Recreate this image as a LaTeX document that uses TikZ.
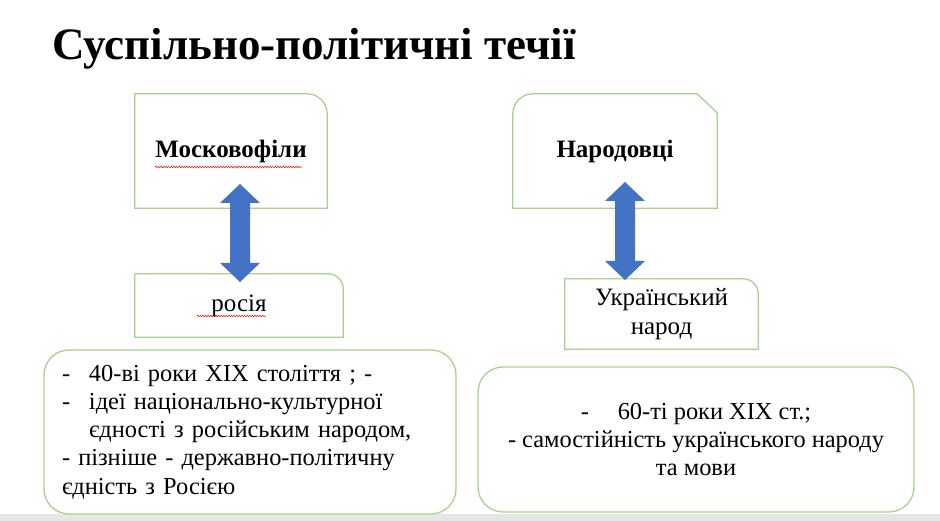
\documentclass[tikz,border=0pt]{standalone}
\usepackage{fontspec}
\setmainfont{Liberation Serif}
\usetikzlibrary{decorations.pathmorphing}
\definecolor{boxgreen}{HTML}{A9D18E}
\definecolor{arrowblue}{HTML}{4472C4}
\definecolor{bandgray}{HTML}{E6E6E6}
\begin{document}
\begin{tikzpicture}[x=1pt,y=1pt,
  greenline/.style={draw=boxgreen, line width=1.3pt},
  boxarea/.style={inner sep=0pt, font=\fontsize{25}{28.25}\selectfont, align=center},
  bigbox/.style={draw=boxgreen, line width=1.3pt, rounded corners=25pt, inner xsep=18pt, inner ysep=0pt, font=\fontsize{24.4}{28.25}\selectfont},
  squiggle/.style={draw=red, line width=0.5pt, decorate, decoration={snake, amplitude=0.7pt, segment length=2.6pt}},
  dblarrow/.style={fill=arrowblue, draw=none}]
\useasboundingbox (0,0) rectangle (940,521);
\fill[white] (0,0) rectangle (940,521);
\fill[bandgray] (0,0) rectangle (940,7);

\node[anchor=base west, inner sep=0pt, font=\fontsize{45}{54}\selectfont\bfseries] (title) at (52,461) {Суспільно-політичні течії};

% top boxes
\node[boxarea, minimum width=192pt, minimum height=114pt] (mos) at (231,370) {\textbf{Московофіли}};
\draw[greenline] (mos.south west) -- (mos.north west) -- ([xshift=-20pt]mos.north east) arc[start angle=90, end angle=0, radius=20pt] -- (mos.south east) -- cycle;
\draw[squiggle] (155,354) -- (302,354);

\node[boxarea, minimum width=204pt, minimum height=114pt] (nar) at (615,370) {\textbf{Народовці}};
\draw[greenline] (nar.south west) -- ([yshift=-20pt]nar.north west) arc[start angle=180, end angle=90, radius=20pt] -- ([xshift=-20pt]nar.north east) -- ([yshift=-19pt]nar.north east) -- (nar.south east) -- cycle;

% middle boxes
\node[boxarea, minimum width=208pt, minimum height=63pt] (ros) at (239,215.5) {росія};
\draw[greenline] (ros.south west) -- (ros.north west) -- ([xshift=-15pt]ros.north east) arc[start angle=90, end angle=0, radius=15pt] -- (ros.south east) -- cycle;
\draw[squiggle] (197,205) -- (266,205);

\node[boxarea, minimum width=193pt, minimum height=70pt] (ukr) at (661.5,207) {Український\\народ};
\draw[greenline] (ukr.south west) -- (ukr.north west) -- ([xshift=-15pt]ukr.north east) arc[start angle=90, end angle=0, radius=15pt] -- (ukr.south east) -- cycle;

% bottom boxes
\node[bigbox, minimum width=412pt, minimum height=164pt, text width=376pt, align=left] (mosinfo) at (250,89)
 {\makebox[27pt][l]{-}40-ві роки XIX століття ; -\\
  \makebox[27pt][l]{-}ідеї національно-культурної\\
  \hspace*{27pt}єдності з російським народом,\\
  - пізніше - державно-політичну\\
  єдність з Росією};

\node[bigbox, minimum width=436pt, minimum height=145pt, align=center] (narinfo) at (696,81.5)
 {\makebox[37pt][l]{-}60-ті роки XIX ст.;\\
  - самостійність українського народу\\
  та мови};

% double arrows
\coordinate (a1t) at (240,337);
\coordinate (a1b) at (240,239);
\fill[dblarrow] (a1t) -- (260,318) -- (250,318) -- (250,258) -- (260,258) -- (a1b) -- (220,258) -- (230,258) -- (230,318) -- (220,318) -- cycle;
\coordinate (a2t) at (625,339);
\coordinate (a2b) at (625,241);
\fill[dblarrow] (a2t) -- (645,320) -- (635,320) -- (635,260) -- (645,260) -- (a2b) -- (605,260) -- (615,260) -- (615,320) -- (605,320) -- cycle;
\end{tikzpicture}
\end{document}
